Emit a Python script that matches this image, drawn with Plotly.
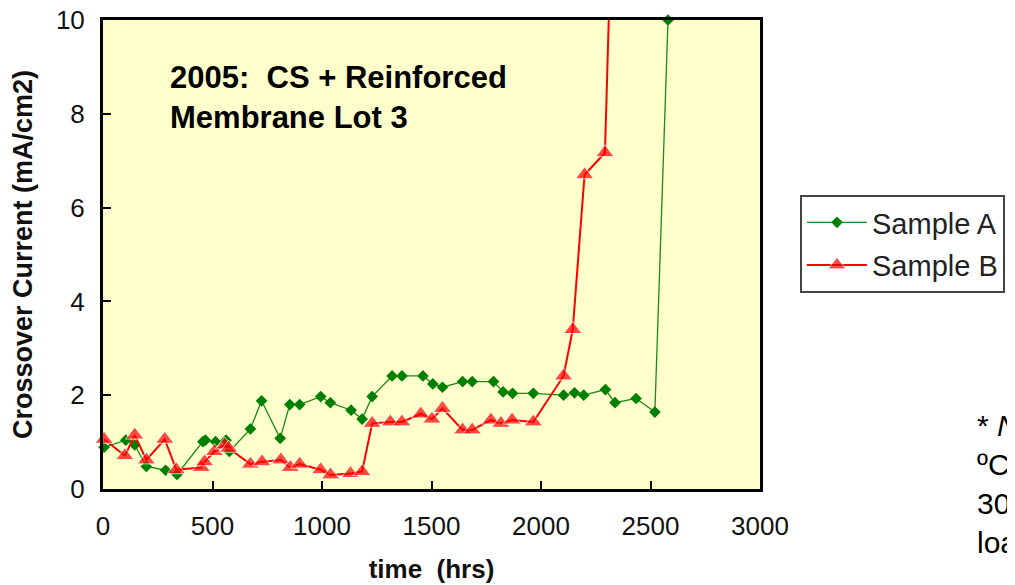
import plotly.graph_objects as go

# Sample A (green diamonds)
hours_a = [5, 104, 145, 198, 286, 338, 456, 468, 514, 562, 577, 673, 724, 809, 853, 898,
           994, 1038, 1133, 1183, 1229, 1320, 1365, 1461, 1506, 1550, 1642, 1686, 1783,
           1827, 1870, 1965, 2103, 2153, 2195, 2294, 2338, 2434, 2520, 2580]
current_a = [0.89, 1.04, 0.94, 0.48, 0.40, 0.31, 1.01, 1.04, 1.01, 1.04, 0.80, 1.28, 1.88,
             1.08, 1.80, 1.80, 1.97, 1.84, 1.68, 1.49, 1.97, 2.41, 2.41, 2.41, 2.24, 2.17,
             2.29, 2.29, 2.29, 2.07, 2.04, 2.04, 2.00, 2.05, 2.00, 2.12, 1.84, 1.93, 1.64, 10.0]

# Sample B (red triangles)
hours_b = [5, 100, 145, 198, 282, 335, 449, 464, 509, 555, 574, 673, 726, 812, 855, 898,
           994, 1039, 1130, 1183, 1229, 1312, 1365, 1451, 1502, 1550, 1642, 1686, 1771,
           1817, 1868, 1965, 2103, 2145, 2199, 2292, 2310]
current_b = [1.06, 0.71, 1.15, 0.62, 1.06, 0.41, 0.46, 0.58, 0.80, 0.94, 0.87, 0.53, 0.58,
             0.62, 0.46, 0.53, 0.41, 0.30, 0.33, 0.37, 1.40, 1.43, 1.43, 1.60, 1.49, 1.72,
             1.26, 1.26, 1.47, 1.40, 1.47, 1.43, 2.41, 3.40, 6.70, 7.17, 10.1]

x_ticks = [0, 500, 1000, 1500, 2000, 2500, 3000]
y_ticks = [0, 2, 4, 6, 8, 10]

series_names = ["Sample A", "Sample B"]
chart_note = "2005:  CS + Reinforced<br>Membrane Lot 3"
side_note = "* <i>Note</i>: 80<br>ºC, 100% RH,<br>30 psig, no<br>load"

FONT = "Liberation Sans, Arial, sans-serif"

# page body adds an 8px offset; plot area target in window px: x 103..760, y 20..489
PL, PR, PT, PB = 103, 760, 20, 489
OFF = 8
PW, PH = PR - PL, PB - PT

red_sizes = [16] * len(hours_b)
red_sizes[-1] = 0

fig = go.Figure()
fig.add_trace(go.Scatter(
    x=hours_a, y=current_a, mode="lines+markers", name=series_names[0],
    legendgroup="a",
    line=dict(color="#1a8a1a", width=1.3),
    marker=dict(symbol="diamond", size=9, color="#008000"),
    cliponaxis=False,
))
fig.add_trace(go.Scatter(
    x=hours_b, y=current_b, mode="lines+markers", name=series_names[1],
    legendgroup="b",
    line=dict(color="#ff0000", width=2),
    marker=dict(symbol="triangle-up", size=red_sizes, color="#ff0000"),
    cliponaxis=False,
))

axis_common = dict(
    showline=True, linecolor="black", linewidth=3, mirror=True,
    ticks="inside", ticklen=8, tickwidth=2, tickcolor="black",
    showgrid=False, zeroline=False,
    tickfont=dict(family=FONT, size=26, color="#111"),
    ticklabeloverflow="allow",
)

fig.update_xaxes(
    range=[0, 3000], tickvals=x_ticks, ticktext=[str(v) for v in x_ticks],
    title=dict(text="<b>time  (hrs)</b>", font=dict(family=FONT, size=26, color="#111"), standoff=20),
    ticklabelstandoff=12,
    **axis_common,
)
fig.update_yaxes(
    range=[0, 10], tickvals=y_ticks, ticktext=[str(v) for v in y_ticks],
    title=dict(text="<b>Crossover Current (mA/cm2)</b>", font=dict(family=FONT, size=27, color="#111"), standoff=28),
    ticklabelstandoff=10,
    **axis_common,
)

fig.add_annotation(
    text="<b>" + chart_note + "</b>", xref="paper", yref="paper",
    x=(168 - PL) / PW, y=(PB - 58) / PH, xanchor="left", yanchor="top",
    showarrow=False, align="left",
    font=dict(family=FONT, size=31, color="black"),
)
fig.add_annotation(
    text=side_note, xref="paper", yref="paper",
    x=(975 - PL) / PW, y=(PB - 407) / PH, xanchor="left", yanchor="top",
    showarrow=False, align="left",
    font=dict(family=FONT, size=30, color="black"),
)

fig.update_layout(
    width=1015, height=585,
    margin=dict(l=PL - OFF, r=1015 - (PR - OFF), t=PT - OFF, b=585 - (PB - OFF), autoexpand=False),
    paper_bgcolor="white", plot_bgcolor="#FFFFCC",
    showlegend=True,
    legend=dict(
        x=(800 - PL) / PW, y=(PB - 195) / PH, xanchor="left", yanchor="top",
        bgcolor="white", bordercolor="#444", borderwidth=2,
        font=dict(family=FONT, size=29, color="#222"),
        traceorder="grouped", tracegroupgap=2, itemwidth=60,
    ),
)

fig.write_html("out.html")
